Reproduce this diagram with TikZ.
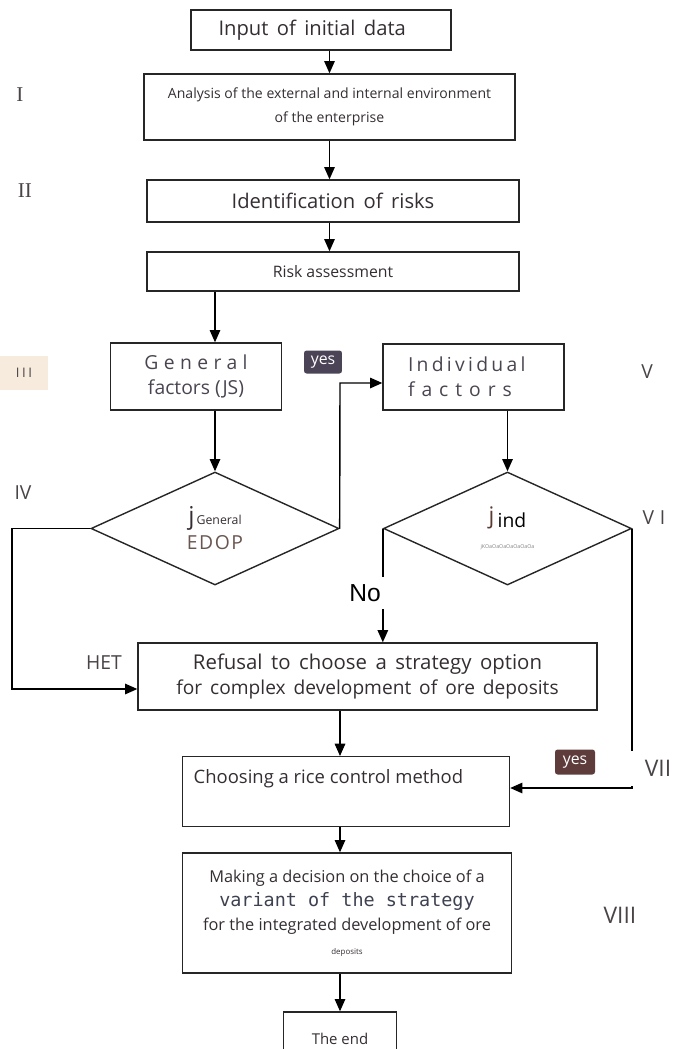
\documentclass[tikz,border=0pt]{standalone}
\usepackage{fontspec}
\setmainfont{Open Sans}
\newfontfamily\monofont{DejaVu Sans Mono}
\newfontfamily\serifnum{Liberation Serif}
\newfontfamily\arialfont{Liberation Sans}
\newfontfamily\widesp[WordSpace=2]{Open Sans}
\newfontfamily\widersp[WordSpace=2.4]{Open Sans}
\newfontfamily\midsp[WordSpace=1.6]{Open Sans}
\usepackage{tikz}
\usetikzlibrary{positioning}
\usetikzlibrary{shapes.geometric}
\usetikzlibrary{arrows.meta}

\definecolor{txtgray}{HTML}{342E33}
\definecolor{numgray}{HTML}{4A4448}
\definecolor{facgray}{HTML}{4A4450}
\definecolor{edop}{HTML}{6A5650}
\definecolor{jbrown}{HTML}{5A3A32}
\definecolor{yesdark}{HTML}{4B4456}
\definecolor{yesred}{HTML}{5E3C3C}
\definecolor{beige}{HTML}{F6EBDD}
\definecolor{mono}{HTML}{3D4150}

\tikzset{
  box/.style={draw=black!85, line width=0.8pt, rectangle, inner sep=0pt,
    align=center, text=txtgray},
  choice/.style={draw=black!85, line width=0.8pt, diamond, aspect=2.2,
    inner sep=0pt, minimum width=4.96cm, minimum height=2.26cm, align=center,
    text=txtgray},
  arr/.style={line width=0.8pt, -{Triangle[length=7pt,width=6pt]}},
  stage/.style={text=numgray, inner sep=1pt, font=\fontsize{11}{12}\selectfont},
  yesbox/.style={fill=#1, text=white, rounded corners=1.5pt, inner sep=0pt,
    minimum width=0.76cm, minimum height=0.46cm, font=\fontsize{9}{9}\selectfont}
}

\begin{document}
\begin{tikzpicture}[x=0.02cm, y=-0.02cm]
    \useasboundingbox (0,0) rectangle (677,1049);

        % Define nodes
        \node[box, minimum width=5.2cm, minimum height=0.8cm,
          font=\widesp\fontsize{11.5}{12}\selectfont]
          (inp) at (321,30) {Input of initial data\hspace{10pt}};
        \node[box, minimum width=7.42cm, minimum height=1.32cm,
          font=\fontsize{8}{14}\selectfont]
          (ana) at (329.5,107) {Analysis of the external and internal environment\\of the enterprise};
        \node[box, minimum width=7.44cm, minimum height=0.84cm,
          font=\widesp\fontsize{11.5}{13}\selectfont]
          (ident) at (333,201) {Identification of risks};
        \node[box, minimum width=7.44cm, minimum height=0.78cm,
          font=\fontsize{9}{11}\selectfont]
          (risk) at (333,271.5) {Risk assessment};
        \node[box, minimum width=3.41cm, minimum height=1.34cm, text=facgray,
          font=\fontsize{11}{14.2}\selectfont]
          (gen) at (196,376.5) {{\addfontfeature{LetterSpace=28}General}\hspace{6pt}\\factors (JS)};
        \node[box, minimum width=3.62cm, minimum height=1.32cm, text=facgray,
          inner xsep=0.5cm, text width=2.62cm, align=left,
          font=\fontsize{11}{14.2}\selectfont]
          (ind) at (473.5,377) {{\addfontfeature{LetterSpace=17}Individual}\\{\addfontfeature{LetterSpace=36}factors}};
        \node[choice, font=\fontsize{11}{14.2}\selectfont]
          (djs) at (215,528.5) {{\fontsize{14}{14}\selectfont j}{\fontsize{7}{8}\selectfont\,General}\\{\color{edop}\addfontfeature{LetterSpace=8}EDOP}};
        \node[choice, font=\fontsize{11}{14.2}\selectfont]
          (dind) at (507.5,528.5) {{\color{jbrown}\fontsize{13}{14}\selectfont j}\,\raisebox{-2pt}{\color{black}ind}\\{\fontsize{3}{3}\selectfont\color{gray}jKOaOaOaOaOaOaOa}};
        \node[box, minimum width=9.18cm, minimum height=1.34cm,
          font=\fontsize{11}{13.7}\selectfont]
          (refuse) at (367.5,676.5) {{\widersp\fontsize{11.6}{13.7}\selectfont Refusal to choose a strategy option}\\{\midsp\fontsize{10.9}{13.7}\selectfont for complex development of ore deposits}};
        \node[box, anchor=north, minimum width=6.54cm, inner ysep=0pt,
          text height=0.54cm, text depth=0.86cm,
          font=\fontsize{10.5}{12}\selectfont]
          (method) at (346,756) {Choosing a rice control method\hspace{20pt}};
        \node[box, minimum width=6.57cm, minimum height=2.4cm,
          font=\fontsize{9.3}{13.6}\selectfont]
          (decide) at (347,913) {Making a decision on the choice of a\\{\monofont\color{mono}\fontsize{10.5}{13.6}\selectfont variant of the strategy}\\for the integrated development of ore\\{\fontsize{4.5}{5}\selectfont deposits}};
        \node[box, minimum width=2.25cm, minimum height=1.06cm,
          font=\fontsize{8.5}{10}\selectfont]
          (endb) at (340,1038.5) {The end};

        % Stage numbers
        \node[stage, font=\serifnum\fontsize{12}{12}\selectfont] (s1) at (20,95) {I};
        \node[stage, font=\serifnum\fontsize{12}{12}\selectfont] (s2) at (25,191) {II};
        \node[stage, fill=beige, inner xsep=9pt, inner ysep=7pt,
          font=\fontsize{7.5}{8}\selectfont\addfontfeature{LetterSpace=20}] (s3) at (24,373) {III};
        \node[stage] (s4) at (23,493) {IV};
        \node[stage] (s5) at (647,372) {V};
        \node[stage, font=\fontsize{11}{12}\selectfont\addfontfeature{LetterSpace=30}] (s6) at (654,518) {VI};
        \node[stage] (het) at (104,663) {HET};
        \node[stage, font=\fontsize{13}{14}\selectfont] (s8) at (620,915) {VIII};

        % Connect the nodes
        \coordinate (yturn) at (340,383);
        \coordinate (lturn) at (12,689);
        \coordinate (rturn) at (632,788);
        \draw[arr] (ana.north |- inp.south) -- (ana.north);
        \draw[arr] (ana.south) -- (ana.south |- ident.north);
        \draw[arr] (ana.south |- ident.south) -- (ana.south |- risk.north);
        \draw[arr] (djs.north |- risk.south) -- (djs.north |- gen.north);
        \draw[arr] (djs.north |- gen.south) -- (djs.north);
        \draw[arr] (djs.east) -- (yturn) -- (yturn -| ind.west);
        \draw[arr] (dind.north |- ind.south) -- (dind.north);
        \draw[arr] (djs.west) -| (lturn) -- (lturn -| refuse.west);
        \draw[arr] (dind.west) -- (dind.west |- refuse.north);
        \draw[arr] (dind.east) -- (dind.east |- rturn) -- (rturn -| method.east);
        \draw[arr] (endb.north |- refuse.south) -- (endb.north |- method.north);
        \draw[arr] (endb.north |- method.south) -- (endb.north |- decide.north);
        \draw[arr] (endb.north |- decide.south) -- (endb.north);

        % Labels on the connectors
        \node[yesbox=yesdark] (yes1) at (323,362) {yes};
        \node[yesbox=yesred, minimum width=0.8cm, minimum height=0.5cm] (yes2) at (575,762) {yes};
        \node[fill=white, inner xsep=5pt, inner ysep=4pt,
          font=\arialfont\fontsize{14}{14}\selectfont] (no) at (365,593) {No};
        \node[stage, fill=white, minimum width=1.15cm, minimum height=0.7cm,
          font=\fontsize{13}{14}\selectfont] (s7) at (658,768) {VII};

\end{tikzpicture}
\end{document}
